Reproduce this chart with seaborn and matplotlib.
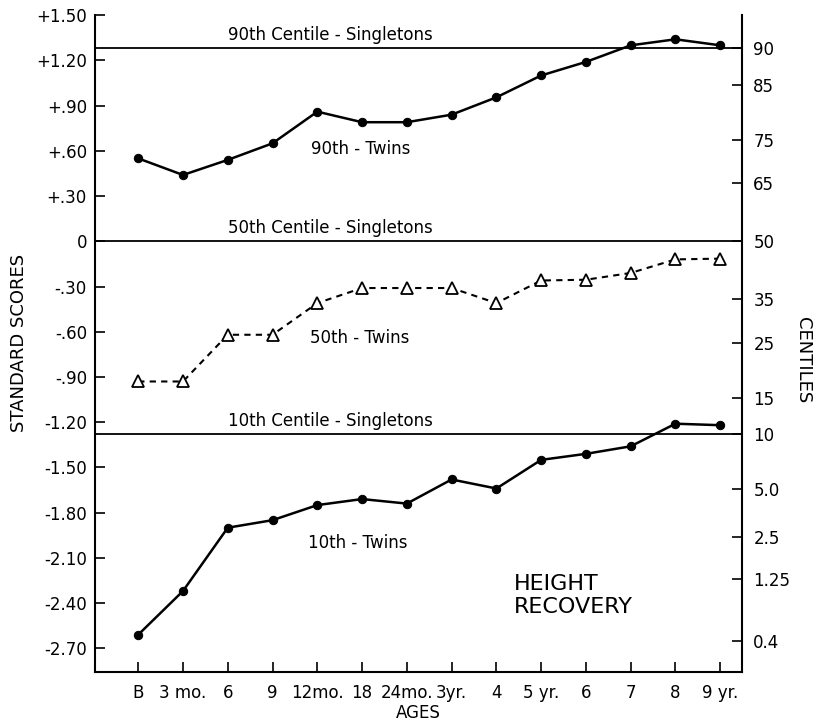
from statistics import NormalDist

import matplotlib
matplotlib.use('Agg')
import matplotlib.pyplot as plt
import seaborn as sns
import pandas as pd

# ages along the x axis
ages = ['B', '3 mo.', '6', '9', '12mo.', '18', '24mo.', '3yr.', '4',
        '5 yr.', '6', '7', '8', '9 yr.']

# standard scores (z) of twins
twins_90 = [0.55, 0.44, 0.54, 0.65, 0.86, 0.79, 0.79, 0.84, 0.955, 1.10,
            1.19, 1.30, 1.34, 1.30]
twins_50 = [-0.93, -0.93, -0.62, -0.62, -0.41, -0.31, -0.31, -0.31, -0.41,
            -0.26, -0.255, -0.21, -0.12, -0.115]
twins_10 = [-2.61, -2.32, -1.90, -1.85, -1.75, -1.71, -1.74, -1.58, -1.64,
            -1.45, -1.41, -1.36, -1.21, -1.22]

# singleton reference centiles
singleton_centiles = [90, 50, 10]
singleton_labels = ['90th Centile - Singletons', '50th Centile - Singletons',
                    '10th Centile - Singletons']

left_ticks = [1.50, 1.20, 0.90, 0.60, 0.30, 0, -0.30, -0.60, -0.90, -1.20,
              -1.50, -1.80, -2.10, -2.40, -2.70]
left_labels = ['+1.50', '+1.20', '+.90', '+.60', '+.30', '0', '-.30', '-.60',
               '-.90', '-1.20', '-1.50', '-1.80', '-2.10', '-2.40', '-2.70']

centiles = [90, 85, 75, 65, 50, 35, 25, 15, 10, 5.0, 2.5, 1.25, 0.4]
centile_labels = ['90', '85', '75', '65', '50', '35', '25', '15', '10', '5.0',
                  '2.5', '1.25', '0.4']

nd = NormalDist()

df = pd.DataFrame({'pos': range(len(ages)), 'age': ages,
                   'p90': twins_90, 'p50': twins_50, 'p10': twins_10})

sns.set_style('ticks')
plt.rcParams['font.family'] = ['DejaVu Sans']
plt.rcParams.update({'text.color': 'black', 'axes.labelcolor': 'black',
                     'xtick.color': 'black', 'ytick.color': 'black',
                     'axes.edgecolor': 'black'})

fig = plt.figure(figsize=(8.21, 7.23), dpi=100)
ax = fig.add_axes([0.116, 0.071, 0.788, 0.908])

sns.lineplot(data=df, x='pos', y='p90', ax=ax, color='black', lw=1.8,
             marker='o', markersize=6, markeredgecolor='black')
sns.lineplot(data=df, x='pos', y='p10', ax=ax, color='black', lw=1.8,
             marker='o', markersize=6, markeredgecolor='black')
sns.lineplot(data=df, x='pos', y='p50', ax=ax, color='black', lw=1.5,
             linestyle=(0, (3, 2.5)), marker='^', markersize=9,
             markerfacecolor='white', markeredgecolor='black',
             markeredgewidth=1.3)

for c, lab in zip(singleton_centiles, singleton_labels):
    z = nd.inv_cdf(c / 100)
    ax.axhline(z, color='black', lw=1.3, zorder=1)
    ax.text(2.0, z + 0.03, lab, fontsize=12, ha='left', va='bottom')

ax.text(3.85, 0.61, '90th - Twins', fontsize=12, va='center')
ax.text(3.83, -0.64, '50th - Twins', fontsize=12, va='center')
ax.text(3.79, -2.00, '10th - Twins', fontsize=12, va='center')
ax.text(8.4, -2.35, 'HEIGHT\nRECOVERY', fontsize=16, va='center',
        ha='left', linespacing=1.2)

ax.set_xlim(-0.96, 13.49)
ax.set_ylim(-2.855, 1.5)
ax.set_xticks(df['pos'])
ax.set_xticklabels(ages, fontsize=12)
ax.set_yticks(left_ticks)
ax.set_yticklabels(left_labels, fontsize=12)
ax.tick_params(axis='both', direction='in', length=7, width=1.2)
ax.tick_params(axis='x', pad=9)
ax.tick_params(axis='y', pad=6)
ax.set_xlabel('AGES', fontsize=12, labelpad=1)
ax.set_ylabel('STANDARD SCORES', fontsize=13, labelpad=6)

ax2 = ax.twinx()
ax2.set_ylim(ax.get_ylim())
ax2.set_yticks([nd.inv_cdf(c / 100) for c in centiles])
ax2.set_yticklabels(centile_labels, fontsize=12)
ax2.tick_params(axis='y', direction='in', length=7, width=1.2, pad=8)
ax2.set_ylabel('CENTILES', fontsize=13, rotation=270)
ax2.yaxis.set_label_coords(1.108, 0.475)

for a in (ax, ax2):
    a.spines['top'].set_visible(False)
    for s in ('left', 'right', 'bottom'):
        a.spines[s].set_linewidth(1.5)
ax.spines['right'].set_visible(False)
ax2.spines['left'].set_visible(False)
ax2.spines['bottom'].set_visible(False)

fig.savefig('out.png', dpi=100)
